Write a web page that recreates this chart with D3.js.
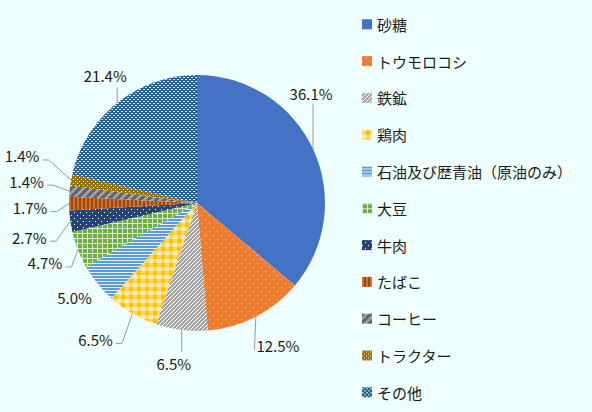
<!DOCTYPE html>
<html>
<head>
<meta charset="utf-8">
<script src="https://cdn.jsdelivr.net/npm/d3@7"></script>
<style>
  html, body { margin: 0; padding: 0; background: #F0FFFF; }
  svg { display: block; font-family: "Noto Sans CJK JP", "Noto Sans", sans-serif; }
</style>
</head>
<body>
<svg width="592" height="412"></svg>
<script>
const categories = ['砂糖', 'トウモロコシ', '鉄鉱', '鶏肉', '石油及び歴青油（原油のみ）',
  '大豆', '牛肉', 'たばこ', 'コーヒー', 'トラクター', 'その他'];
const shares = [36.1, 12.5, 6.5, 6.5, 5.0, 4.7, 2.7, 1.7, 1.4, 1.4, 21.4];
const labelText = ['36.1%', '12.5%', '6.5%', '6.5%', '5.0%', '4.7%', '2.7%', '1.7%', '1.4%', '1.4%', '21.4%'];

// label nudge from the slice's outer mid point (px)
const labelNudge = [[-2, -56], [22, 29], [-8, 33], [-37, 26], [-23, 14], [-33, 13],
  [-41, 16], [-39, 4], [-43, -10], [-49, -24], [-12, -27]];

const baseColors = ['#4472C4', '#ED7D31', '#A5A5A5', '#FFC000', '#5B9BD5', '#70AD47',
  '#264478', '#9E480E', '#636363', '#997300', '#255E91'];

const svg = d3.select('svg');
const defs = svg.append('defs');

// hatch patterns, one per slice
function pattern(id, w, h, bg, draw) {
  const p = defs.append('pattern').attr('id', id)
    .attr('patternUnits', 'userSpaceOnUse').attr('width', w).attr('height', h);
  p.append('rect').attr('width', w).attr('height', h).attr('fill', bg);
  draw(p);
}
const px = (p, x, y, w, h, c) => p.append('rect').attr('x', x).attr('y', y)
  .attr('width', w).attr('height', h).attr('fill', c);

pattern('p0', 4, 4, baseColors[0], p => {});
pattern('p1', 8, 8, baseColors[1], p => { px(p, 0, 0, 1, 1, '#FBD7C0'); px(p, 4, 4, 1, 1, '#FBD7C0'); });
pattern('p2', 4, 4, baseColors[2], p => {
  px(p, 3, 0, 1, 1, '#fff'); px(p, 2, 1, 1, 1, '#fff'); px(p, 1, 2, 1, 1, '#fff'); px(p, 0, 3, 1, 1, '#fff');
});
pattern('p3', 8, 8, baseColors[3], p => {
  px(p, 0, 0, 4, 8, '#FFD966'); px(p, 0, 0, 8, 4, '#FFD966'); px(p, 0, 0, 4, 4, '#FFEDB3');
});
pattern('p4', 3, 3, baseColors[4], p => { px(p, 0, 0, 3, 1, '#E6F0FA'); });
pattern('p5', 5, 5, baseColors[5], p => { px(p, 0, 0, 5, 1, '#DDEFD2'); px(p, 0, 0, 1, 5, '#DDEFD2'); });
pattern('p6', 6, 6, baseColors[6], p => { px(p, 0, 0, 1, 1, '#fff'); px(p, 3, 3, 1, 1, '#fff'); });
pattern('p7', 4, 4, baseColors[7], p => { px(p, 0, 0, 2, 4, '#D0702E'); });
pattern('p8', 8, 8, baseColors[8], p => {
  p.append('path').attr('d', 'M0,8 L8,0 M-2,2 L2,-2 M6,10 L10,6')
    .attr('stroke', '#A5A5A5').attr('stroke-width', 2.6);
});
pattern('p9', 4, 4, baseColors[9], p => { px(p, 0, 0, 1, 1, '#fff'); px(p, 2, 2, 1, 1, '#fff'); });
pattern('p10', 4, 4, baseColors[10], p => { px(p, 0, 0, 2, 1, '#DCE8F3'); px(p, 2, 2, 2, 1, '#DCE8F3'); });

const cx = 197, cy = 203, radius = 128;

const pie = d3.pie().sort(null).value(d => d)(shares);
const arc = d3.arc().innerRadius(0).outerRadius(radius);

const g = svg.append('g').attr('transform', `translate(${cx},${cy})`);

g.selectAll('.slice')
  .data(pie)
  .enter()
  .append('path')
  .attr('class', 'slice')
  .attr('d', arc)
  .attr('fill', (d, i) => `url(#p${i})`);

// data labels with leader lines
const edge = d => {
  const a = (d.startAngle + d.endAngle) / 2;
  return [radius * Math.sin(a), -radius * Math.cos(a)];
};

pie.forEach((d, i) => {
  const [ex, ey] = edge(d);
  const lx = ex + labelNudge[i][0], ly = ey + labelNudge[i][1];
  const t = g.append('text')
    .attr('x', lx).attr('y', ly)
    .attr('text-anchor', 'middle')
    .attr('dominant-baseline', 'central')
    .attr('font-size', 15)
    .attr('fill', '#1A1A1A')
    .text(labelText[i]);
  const b = t.node().getBBox();
  const left = b.x, right = b.x + b.width, top = b.y + 3, bottom = b.y + b.height - 3;
  const dx = Math.max(left - ex, 0, ex - right), dy = Math.max(top - ey, 0, ey - bottom);
  if (Math.hypot(dx, dy) < 12) return;
  let pts;
  if (ex >= left && ex <= right) {
    pts = [[ex, ey], [ex, ey > bottom ? bottom + 4 : top - 4]];
  } else if (ex < left) {
    pts = [[ex, ey], [left - 2, ly + 4]];
  } else {
    pts = [[ex, ey], [right + 9, ly + 4], [right + 3, ly + 4]];
  }
  g.append('path')
    .attr('d', d3.line()(pts))
    .attr('fill', 'none')
    .attr('stroke', '#999999')
    .attr('stroke-width', 1);
});

// legend
const legendY = d3.scalePoint().domain(categories).range([24.3, 392.3]);
const legend = svg.append('g');
const item = legend.selectAll('.item')
  .data(categories)
  .enter()
  .append('g')
  .attr('class', 'item')
  .attr('transform', d => `translate(362,${legendY(d)})`);
item.append('rect')
  .attr('x', 0).attr('y', -5)
  .attr('width', 10).attr('height', 10)
  .attr('fill', (d, i) => `url(#p${i})`);
item.append('text')
  .attr('x', 15).attr('y', 0)
  .attr('dominant-baseline', 'central')
  .attr('font-size', 15)
  .attr('fill', '#1A1A1A')
  .text(d => d);
</script>
</body>
</html>
